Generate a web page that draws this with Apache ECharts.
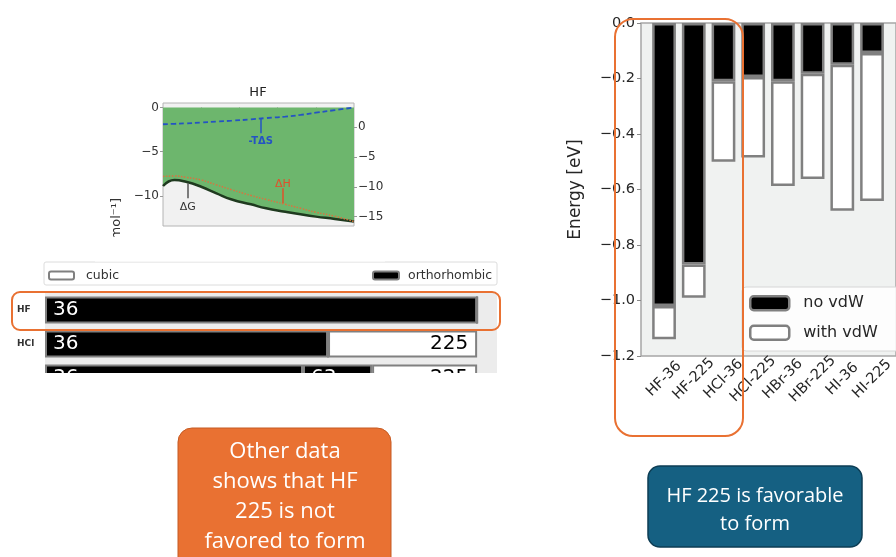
<!DOCTYPE html>
<html><head><meta charset="utf-8">
<script src="https://cdn.jsdelivr.net/npm/echarts@6/dist/echarts.min.js"></script>
<style>html,body{margin:0;padding:0;background:#fff}#c{width:896px;height:557px}</style>
</head><body><div id="c"></div>
<script>
// ---- Right chart: energies ----
const categories = ['HF-36','HF-225','HCl-36','HCl-225','HBr-36','HBr-225','HI-36','HI-225'];
const noVdw   = [-1.02, -0.87, -0.21, -0.195, -0.21, -0.183, -0.15, -0.108];
const withVdw = [-1.14, -0.99, -0.50, -0.485, -0.587, -0.562, -0.677, -0.641];

// ---- Thermo chart (HF) ----
const thermoT = [0, 30, 60, 100, 140, 180, 230, 270, 320, 360, 400, 450, 500];
const dG   = [-8.88, -8.2, -8.4, -8.96, -9.71, -10.4, -10.95, -11.4, -11.78, -12.08, -12.34, -12.6, -12.9];
const dH   = [-7.8, -7.75, -7.9, -8.2, -8.75, -9.3, -9.95, -10.4, -10.95, -11.4, -11.85, -12.3, -12.9];
const mTdS = [-1.9, -1.85, -1.8, -1.7, -1.6, -1.5, -1.35, -1.2, -1.05, -0.85, -0.6, -0.3, 0.0];
const thermoLeftTicks = [0, -5, -10];
const thermoRightTicks = [0, -5, -10, -15];
const thermoXTicks = [100, 200, 300, 400];

// ---- Horizontal fraction bars ----
const compositions = ['HF', 'HCl', 'HBr'];
const frac36  = [100, 65.5, 59.7];
const frac63  = [0, 0, 16];
const frac225 = [0, 34.5, 24.3];

const fmtMinus = (v, d) => {
  if (Math.abs(v) < 1e-9) return d ? (0).toFixed(d) : '0';
  const s = d ? Math.abs(v).toFixed(d) : String(Math.round(Math.abs(v)));
  return (v < 0 ? '\u2212' : '') + s;
};
const F = 'DejaVu Sans';
const edge = '#808080';

const chart = echarts.init(document.getElementById('c'), null, {renderer: 'canvas'});
const option = {
  animation: false,
  textStyle: {fontFamily: F},
  grid: [
    {left: 641, top: 23, right: -7, bottom: 201, show: true, backgroundColor: '#f0f2f1', borderColor: '#a6a6a6', borderWidth: 1.5},
    {left: 163, top: 103, width: 191, height: 123, show: true, backgroundColor: '#f1f1f1', borderColor: '#b4b4b4', borderWidth: 1},
    {left: 45, top: 293, width: 452, height: 102, show: true, backgroundColor: '#ececec', borderWidth: 0},
    {left: 649.2, top: 23, width: 244.6, bottom: 201, show: false}
  ],
  xAxis: [
    {gridIndex: 0, type: 'value', min: 0, max: 1, show: false},
    {gridIndex: 1, type: 'value', min: 0, max: 500,
     splitLine: {show: false}, axisLine: {show: false},
     axisTick: {show: true, customValues: thermoXTicks, length: 4, lineStyle: {color: '#999'}},
     axisLabel: {show: false}},
    {gridIndex: 2, type: 'value', min: 0, max: 104.6, show: false},
    {gridIndex: 3, type: 'category', data: categories, boundaryGap: true,
     axisLine: {show: false},
     axisTick: {show: true, alignWithLabel: true, length: 4, lineStyle: {color: '#888'}},
     axisLabel: {interval: 0, rotate: 45, align: 'center', verticalAlign: 'middle', margin: 23,
       fontSize: 14.5, color: '#262626', fontFamily: F}}
  ],
  yAxis: [
    {gridIndex: 0, type: 'value', min: -1.2, max: 0, interval: 0.2,
     splitLine: {show: false}, axisLine: {show: false},
     axisTick: {show: true, length: 4, lineStyle: {color: '#888'}},
     axisLabel: {formatter: v => fmtMinus(v, 1), fontSize: 14.5, color: '#262626', margin: 6, fontFamily: F},
     name: 'Energy [eV]', nameLocation: 'middle', nameGap: 57, nameRotate: 90,
     nameTextStyle: {fontSize: 17, color: '#262626', fontFamily: F}},
    {gridIndex: 1, type: 'value', min: -13.4, max: 0.5, position: 'left',
     splitLine: {show: false}, axisLine: {show: false},
     axisTick: {show: true, customValues: thermoLeftTicks, length: 3, lineStyle: {color: '#999'}},
     axisLabel: {customValues: thermoLeftTicks, formatter: v => fmtMinus(v, 0), fontSize: 12, color: '#333', margin: 4}},
    {gridIndex: 1, type: 'value', min: -16.6, max: 4.1, position: 'right',
     splitLine: {show: false}, axisLine: {show: false},
     axisTick: {show: true, customValues: thermoRightTicks, length: 3, lineStyle: {color: '#999'}},
     axisLabel: {customValues: thermoRightTicks, formatter: v => fmtMinus(v, 0), fontSize: 12, color: '#333', margin: 4}},
    {gridIndex: 2, type: 'category', data: compositions, inverse: true,
     axisLine: {show: false}, axisTick: {show: false},
     axisLabel: {fontSize: 9, fontWeight: 'bold', color: '#333', align: 'left', margin: 28}},
    {gridIndex: 3, type: 'value', min: -1.2, max: 0, show: false}
  ],
  legend: [
    {data: [
       {name: 'no vdW', itemStyle: {color: '#000', borderColor: edge, borderWidth: 2.5}},
       {name: 'with vdW', itemStyle: {color: '#fff', borderColor: edge, borderWidth: 2.5}}],
     orient: 'vertical', left: 742, top: 287, padding: [8, 30, 10, 7], itemGap: 13,
     itemWidth: 39, itemHeight: 14, backgroundColor: 'rgba(255,255,255,0.85)', borderColor: '#d6d6d6', borderWidth: 1, borderRadius: 4,
     textStyle: {fontSize: 16, color: '#262626', lineHeight: 14, padding: [0, 0, 0, 9], fontFamily: F}, selectedMode: false},
    {data: [{name: 'cubic', itemStyle: {color: '#fff', borderColor: edge, borderWidth: 2}}],
     left: 48, top: 269, padding: 0, itemWidth: 25, itemHeight: 8,
     textStyle: {fontSize: 12.5, color: '#333', lineHeight: 10, padding: [0, 0, 0, 7], fontFamily: F}, selectedMode: false},
    {data: [{name: 'orthorhombic', itemStyle: {color: '#000', borderColor: edge, borderWidth: 2}}],
     left: 372, top: 269, padding: 0, itemWidth: 26, itemHeight: 8,
     textStyle: {fontSize: 12.5, color: '#333', lineHeight: 10, padding: [0, 0, 0, 4], fontFamily: F}, selectedMode: false}
  ],
  series: [
    {name: 'no vdW', type: 'bar', xAxisIndex: 3, yAxisIndex: 4, stack: 'e', barWidth: '80%',
     itemStyle: {color: '#000', borderColor: edge, borderWidth: 2.5},
     data: noVdw},
    {name: 'with vdW', type: 'bar', xAxisIndex: 3, yAxisIndex: 4, stack: 'e', barWidth: '80%',
     itemStyle: {color: '#fff', borderColor: edge, borderWidth: 2.5},
     data: withVdw.map((v, i) => +(v - noVdw[i]).toFixed(4))},

    {name: 'ΔG', type: 'line', xAxisIndex: 1, yAxisIndex: 1, smooth: 0.5, symbol: 'none',
     lineStyle: {color: '#1f3a1f', width: 2.5},
     areaStyle: {color: '#6db66d', opacity: 1, origin: 0},
     data: thermoT.map((t, i) => [t, dG[i]]),
     markLine: {symbol: 'none', silent: true, lineStyle: {color: '#555', width: 1.5, type: 'solid'},
       label: {show: true, position: 'end', formatter: 'ΔG', color: '#333', fontSize: 11, distance: 3},
       data: [[{coord: [65, -8.58]}, {coord: [65, -10.27]}]]}},
    {name: 'ΔH', type: 'line', xAxisIndex: 1, yAxisIndex: 1, smooth: 0.5, symbol: 'none',
     lineStyle: {color: '#d8743f', width: 1.5, type: 'dotted'},
     data: thermoT.map((t, i) => [t, dH[i]]),
     markLine: {symbol: 'none', silent: true, lineStyle: {color: '#e0502a', width: 1.5, type: 'solid'},
       label: {show: true, position: 'end', formatter: 'ΔH', color: '#e0502a', fontSize: 11, distance: -1},
       data: [[{coord: [314, -10.84]}, {coord: [314, -9.14]}]]}},
    {name: '-TΔS', type: 'line', xAxisIndex: 1, yAxisIndex: 1, smooth: 0.5, symbol: 'none',
     lineStyle: {color: '#2453c4', width: 1.8, type: [5, 3]},
     data: thermoT.map((t, i) => [t, mTdS[i]]),
     markLine: {symbol: 'none', silent: true, lineStyle: {color: '#2453c4', width: 1.5, type: 'solid'},
       label: {show: true, position: 'end', formatter: '-TΔS', color: '#2453c4', fontSize: 10, fontWeight: 'bold', distance: 3},
       data: [[{coord: [256, -1.25]}, {coord: [256, -2.93]}]]}},

    {name: 'orthorhombic', type: 'bar', xAxisIndex: 2, yAxisIndex: 3, stack: 'f', barCategoryGap: '20%',
     itemStyle: {color: '#000', borderColor: edge, borderWidth: 2},
     label: {show: true, position: 'insideLeft', distance: 8, color: '#fff', fontSize: 20, formatter: p => p.value > 0 ? '36' : ''},
     data: frac36},
    {name: 'orthorhombic', type: 'bar', xAxisIndex: 2, yAxisIndex: 3, stack: 'f', barCategoryGap: '20%',
     itemStyle: {color: '#000', borderColor: edge, borderWidth: 2},
     label: {show: true, position: 'insideLeft', distance: 8, color: '#fff', fontSize: 20, formatter: p => p.value > 0 ? '63' : ''},
     data: frac63},
    {name: 'cubic', type: 'bar', xAxisIndex: 2, yAxisIndex: 3, stack: 'f', barCategoryGap: '20%',
     itemStyle: {color: '#fff', borderColor: edge, borderWidth: 2},
     label: {show: true, position: 'insideRight', distance: 9, color: '#000', fontSize: 20, formatter: p => p.value > 0 ? '225' : ''},
     data: frac225}
  ],
  graphic: [
    {type: 'rect', z: 0, shape: {x: 44, y: 262, width: 453, height: 23, r: 2}, style: {fill: '#fff', stroke: '#dcdcdc', lineWidth: 1}},
    {type: 'text', z: 10, x: 258, y: 93, style: {text: 'HF', font: '13px "DejaVu Sans"', fill: '#222', align: 'center', verticalAlign: 'middle'}},
    {type: 'text', z: 10, x: 117, y: 229, rotation: Math.PI / 2,
     style: {text: '[kJ mol\u207B\u00B9]', font: '13px "DejaVu Sans"', fill: '#333', align: 'center', verticalAlign: 'middle'}},
    {type: 'rect', z: 50, shape: {x: 95, y: 237, width: 290, height: 24.5}, style: {fill: '#fff'}},
    {type: 'rect', z: 50, shape: {x: 0, y: 373, width: 520, height: 53}, style: {fill: '#fff'}},
    {type: 'rect', z: 100, shape: {x: 12, y: 292, width: 488, height: 38, r: 8}, style: {fill: 'none', stroke: '#E97132', lineWidth: 2}},
    {type: 'rect', z: 100, shape: {x: 615, y: 19, width: 128, height: 417, r: 18}, style: {fill: 'none', stroke: '#E97132', lineWidth: 2}},
    {type: 'rect', z: 100, shape: {x: 178, y: 428, width: 213, height: 150, r: 14}, style: {fill: '#E97132', stroke: '#c55a22', lineWidth: 1}},
    {type: 'text', z: 101, x: 285, y: 437,
     style: {text: 'Other data\nshows that HF\n225 is not\nfavored to form', font: '22px "Open Sans"', lineHeight: 30,
       fill: '#fff', align: 'center', verticalAlign: 'top'}},
    {type: 'rect', z: 100, shape: {x: 648, y: 466, width: 214, height: 81, r: 12}, style: {fill: '#156082', stroke: '#0d3d54', lineWidth: 1.5}},
    {type: 'text', z: 101, x: 755, y: 482,
     style: {text: 'HF 225 is favorable\nto form', font: '20px "Open Sans"', lineHeight: 28,
       fill: '#fff', align: 'center', verticalAlign: 'top'}}
  ]
};
chart.setOption(option);
</script>
</body></html>
